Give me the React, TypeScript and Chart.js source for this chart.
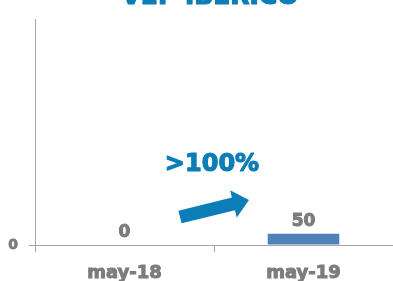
import React, { useEffect, useRef } from "react";
import { Chart, registerables } from "chart.js";
Chart.register(...registerables);

const categories = ["may-18", "may-19"];
const values = [0, 50];
const yTicks = [0];
const yMax = 1000;
const title = "VEP IBERICO";
const growthLabel = ">100%";

const BLUE = "#0B7DB7";
const BAR = "#4F81BD";
const GRAY = "#7C7C7C";
const AXIS = "#A6A6A6";
const FONT = "'DejaVu Sans', Verdana, sans-serif";

function heavyText(ctx: CanvasRenderingContext2D, t: string, x: number, y: number, color: string, w: number) {
  ctx.fillStyle = color;
  ctx.strokeStyle = color;
  ctx.lineWidth = w;
  ctx.lineJoin = "round";
  ctx.strokeText(t, x, y);
  ctx.fillText(t, x, y);
}

export default function App() {
  const ref = useRef<HTMLCanvasElement>(null);
  useEffect(() => {
    const overlay = {
      id: "overlay",
      afterDatasetsDraw(chart: any) {
        const ctx = chart.ctx as CanvasRenderingContext2D;
        const x = chart.scales.x;
        const y = chart.scales.y;
        const meta = chart.getDatasetMeta(0);
        const zero = y.getPixelForValue(0);
        ctx.save();
        ctx.textAlign = "center";
        ctx.textBaseline = "alphabetic";
        // data labels
        ctx.font = `bold 17px ${FONT}`;
        meta.data.forEach((el: any, i: number) => {
          heavyText(ctx, String(values[i]), el.x, el.y - 8, GRAY, 1);
        });
        // title (partly clipped at the top)
        ctx.font = `bold 25px ${FONT}`;
        heavyText(ctx, title, (x.left + x.right) / 2 - 4, 4, BLUE, 1.2);
        // growth label
        const mx = (x.getPixelForValue(0) + x.getPixelForValue(1)) / 2;
        ctx.font = `bold 24px ${FONT}`;
        heavyText(ctx, growthLabel, mx - 2, zero - 74, BLUE, 1.2);
        // arrow
        const sx = mx - 34, sy = zero - 28;
        const ex = mx + 35, ey = zero - 45;
        const len = Math.hypot(ex - sx, ey - sy);
        const ux = (ex - sx) / len, uy = (ey - sy) / len;
        const nx = -uy, ny = ux;
        const shaft = 6.5, head = 14, headLen = 16;
        const bx = ex - ux * headLen, by = ey - uy * headLen;
        ctx.beginPath();
        ctx.moveTo(sx + nx * shaft, sy + ny * shaft);
        ctx.lineTo(bx + nx * shaft, by + ny * shaft);
        ctx.lineTo(bx + nx * head, by + ny * head);
        ctx.lineTo(ex, ey);
        ctx.lineTo(bx - nx * head, by - ny * head);
        ctx.lineTo(bx - nx * shaft, by - ny * shaft);
        ctx.lineTo(sx - nx * shaft, sy - ny * shaft);
        ctx.closePath();
        ctx.fillStyle = BLUE;
        ctx.fill();
        ctx.restore();
      },
    };
    const chart = new Chart(ref.current!, {
      type: "bar",
      data: {
        labels: categories,
        datasets: [
          {
            data: values,
            backgroundColor: BAR,
            borderWidth: 0,
            barPercentage: 0.4,
            categoryPercentage: 1,
          },
        ],
      },
      options: {
        responsive: false,
        animation: false,
        layout: { padding: { top: 8, left: 0, right: 0, bottom: 0 } },
        plugins: { legend: { display: false }, tooltip: { enabled: false }, title: { display: false } },
        scales: {
          x: {
            grid: { drawOnChartArea: false, color: AXIS, tickLength: 7 },
            border: { color: AXIS },
            ticks: {
              color: GRAY,
              font: { family: FONT, size: 18, weight: "bold" },
              padding: 11,
              textStrokeColor: GRAY,
              textStrokeWidth: 1,
            },
            afterFit: (s: any) => { s.height = 36; },
          },
          y: {
            min: 0,
            max: yMax,
            grid: { drawOnChartArea: false, color: AXIS, tickLength: 6 },
            border: { color: AXIS },
            ticks: {
              color: GRAY,
              font: { family: FONT, size: 14, weight: "bold" },
              padding: 11,
              textStrokeColor: GRAY,
              textStrokeWidth: 0.8,
            },
            afterBuildTicks: (s: any) => { s.ticks = yTicks.map((v) => ({ value: v })); },
            afterFit: (s: any) => { s.width = 35; },
          },
        },
      },
      plugins: [overlay],
    } as any);
    return () => chart.destroy();
  }, []);
  return (
    <div style={{ position: "fixed", left: 0, top: 0, width: 393, height: 281, background: "#fff" }}>
      <canvas ref={ref} width={393} height={281} style={{ display: "block" }} />
    </div>
  );
}
